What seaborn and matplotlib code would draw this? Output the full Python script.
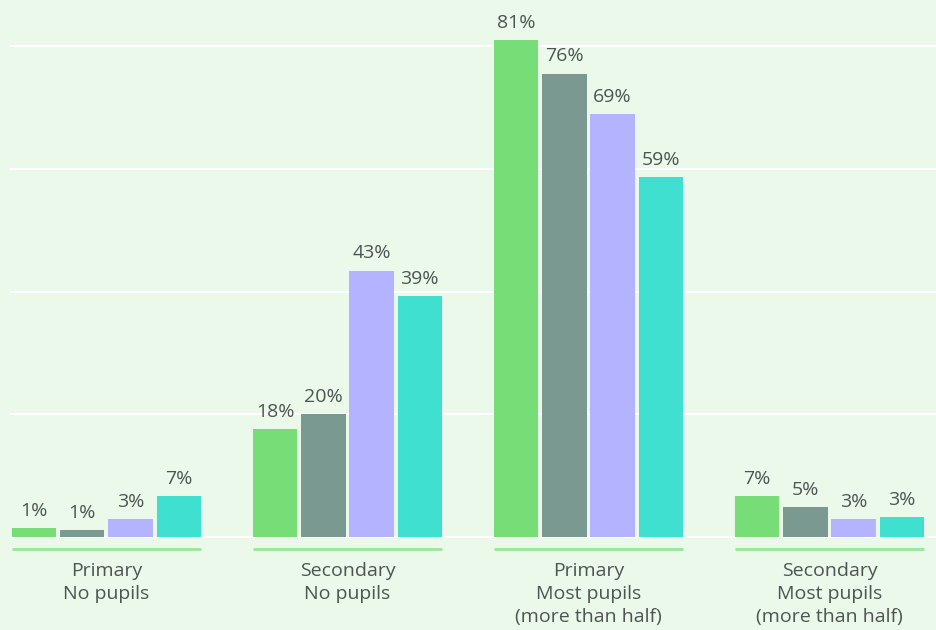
import pandas as pd
import matplotlib
matplotlib.use("Agg")
import matplotlib.pyplot as plt
import seaborn as sns

# data (percent of schools)
categories = ["Primary\nNo pupils", "Secondary\nNo pupils",
              "Primary\nMost pupils\n(more than half)", "Secondary\nMost pupils\n(more than half)"]
series = ["Series 1", "Series 2", "Series 3", "Series 4"]
s1 = [1.4, 17.6, 81.0, 6.7]
s2 = [1.1, 20.0, 75.5, 4.9]
s3 = [2.9, 43.4, 68.9, 2.9]
s4 = [6.6, 39.2, 58.6, 3.2]

colors = ["#77DD77", "#7A9991", "#B3B3FF", "#40E0D0"]
bg = "#EAF9EA"
text_col = "#4E5451"

rows = []
for name, vals in zip(series, [s1, s2, s3, s4]):
    for cat, v in zip(categories, vals):
        rows.append({"category": cat, "series": name, "value": v})
df = pd.DataFrame(rows)

sns.set_style("white")
plt.rcParams["font.family"] = ["Open Sans", "DejaVu Sans"]

fig = plt.figure(figsize=(9.36, 6.3), dpi=100, facecolor=bg)
ax = fig.add_axes([10 / 936, 90 / 630, 926 / 936, 540 / 630])
ax.set_facecolor(bg)

sns.barplot(data=df, x="category", y="value", hue="series", palette=colors,
            width=0.8, gap=0.08, saturation=1, linewidth=0, ax=ax,
            legend=False, zorder=3)

for cont in ax.containers:
    labels = [f"{round(b.get_height())}%" for b in cont]
    ax.bar_label(cont, labels=labels, padding=6, fontsize=14, color=text_col)

ax.set_xlim(-0.4, 3.442)
ax.set_ylim(-0.49, 87.5)
ax.set_yticks([0, 20, 40, 60, 80])
ax.yaxis.grid(True, color="white", linewidth=1.5, zorder=0)
ax.set_axisbelow(True)
ax.tick_params(axis="y", left=False, labelleft=False)
ax.tick_params(axis="x", bottom=False, pad=12, labelsize=14, labelcolor=text_col)
for lbl in ax.get_xticklabels():
    lbl.set_linespacing(1.38)
ax.set_xlabel("")
ax.set_ylabel("")
sns.despine(ax=ax, left=True, bottom=True)

# green underline below each group
for i in range(len(categories)):
    ax.plot([i - 0.392, i + 0.392], [-1.95, -1.95], color="#99E699",
            linewidth=2, clip_on=False, solid_capstyle="butt")

fig.savefig("out.png", dpi=100, facecolor=bg)
